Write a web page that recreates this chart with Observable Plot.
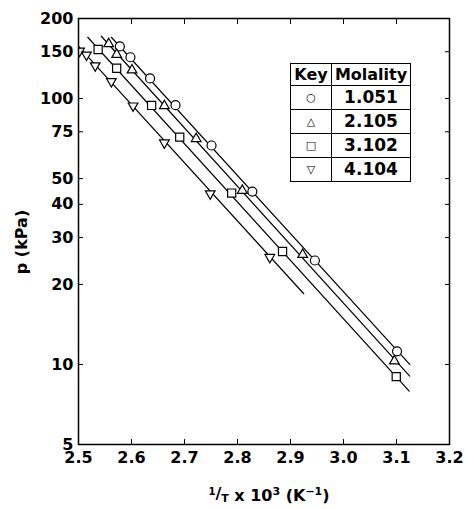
<!DOCTYPE html>
<html><head><meta charset="utf-8">
<script src="https://cdn.jsdelivr.net/npm/d3@7"></script>
<script src="https://cdn.jsdelivr.net/npm/@observablehq/plot@0.6"></script>
<style>
body{margin:0;background:#fff;font-family:"DejaVu Sans",sans-serif;}
#wrap{position:relative;width:465px;height:509px;}
#legend{position:absolute;left:290px;top:63px;border-collapse:collapse;table-layout:fixed;background:#fff;font-family:"DejaVu Sans",sans-serif;font-weight:bold;color:#000;}
#legend td,#legend th{border:1.5px solid #000;padding:0;text-align:center;line-height:1;}
#legend th{font-size:16px;height:21px;}
#legend td{font-size:17px;height:23px;}
#legend td.k{font-size:11px;font-weight:normal;}
</style></head><body><div id="wrap"></div>
<script>
const molality = ["1.051", "2.105", "3.102", "4.104"];
const keyGlyphs = ["○", "△", "□", "▽"];
const symbols = ["circle", "triangle", "square", "triangle"];
const rotations = [0, 0, 0, 180];
const radii = [4.5, 3.6, 4.6, 3.6];

const invT_1 = [2.578, 2.598, 2.635, 2.683, 2.751, 2.828, 2.946, 3.101];
const p_1    = [157, 143, 119, 94.4, 66.6, 44.7, 24.6, 11.2];
const invT_2 = [2.557, 2.572, 2.601, 2.662, 2.722, 2.809, 2.923, 3.096];
const p_2    = [160.6, 146.4, 128, 93.9, 70.6, 45.1, 25.9, 10.3];
const invT_3 = [2.537, 2.572, 2.638, 2.691, 2.789, 2.885, 3.0995];
const p_3    = [152.9, 130, 94.2, 71.6, 44.1, 26.6, 9.0];
const invT_4 = [2.502, 2.515, 2.5315, 2.562, 2.603, 2.662, 2.7485, 2.861];
const p_4    = [151, 146, 132.9, 116, 93.9, 68.2, 43.9, 25.3];

const lineStartX = [2.562, 2.543, 2.5175, 2.5];
const lineStartP = [170, 171.5, 170, 157];
const lineEndX   = [3.125, 3.125, 3.124, 2.925];
const lineEndP   = [10.0, 9.04, 7.94, 18.45];

const xTicks = [2.5, 2.6, 2.7, 2.8, 2.9, 3.0, 3.1, 3.2];
const yTicks = [5, 10, 20, 30, 40, 50, 75, 100, 150, 200];

const seriesX = [invT_1, invT_2, invT_3, invT_4];
const seriesP = [p_1, p_2, p_3, p_4];

const lines = molality.flatMap((m, i) => [
  {x: lineStartX[i], p: lineStartP[i], s: m},
  {x: lineEndX[i], p: lineEndP[i], s: m}
]);

const dotMarks = molality.map((m, i) => Plot.dot(
  seriesX[i].map((x, j) => ({x, p: seriesP[i][j]})),
  {x: "x", y: "p", symbol: symbols[i], rotate: rotations[i], r: radii[i],
   fill: "white", stroke: "black", strokeWidth: 1.2, clip: true}
));

const chart = Plot.plot({
  width: 465, height: 509,
  marginLeft: 78, marginRight: 16, marginTop: 18, marginBottom: 65,
  style: {fontFamily: "DejaVu Sans", fontSize: "16px", fontWeight: "bold", background: "#fff", color: "#000"},
  x: {domain: [2.5, 3.2]},
  y: {type: "log", domain: [5, 200]},
  marks: [
    Plot.axisX(xTicks, {anchor: "bottom", tickSize: -5, tickPadding: 12, tickFormat: d3.format(".1f"), label: null}),
    Plot.axisX(xTicks, {anchor: "top", tickSize: -5, tickFormat: () => "", label: null}),
    Plot.axisY(yTicks, {anchor: "left", tickSize: -5, tickPadding: 10, tickFormat: d => String(d), label: null}),
    Plot.axisY(yTicks, {anchor: "right", tickSize: -5, tickFormat: () => "", label: null}),
    Plot.line(lines, {x: "x", y: "p", z: "s", stroke: "black", strokeWidth: 1.2}),
    ...dotMarks,
    Plot.frame({stroke: "black", strokeWidth: 1.5})
  ]
});

const svg = d3.select(chart);
// y axis label
svg.append("text")
  .attr("transform", "translate(27,242) rotate(-90)")
  .attr("text-anchor", "middle")
  .style("font", "bold 16px 'DejaVu Sans'")
  .text("p (kPa)");
// x axis label
const xl = svg.append("text")
  .attr("x", 269).attr("y", 501)
  .attr("text-anchor", "middle")
  .style("font", "bold 16px 'DejaVu Sans'");
xl.append("tspan").attr("font-size", 10).attr("dy", -6).text("1");
xl.append("tspan").attr("font-size", 16).attr("dy", 4).text("/");
xl.append("tspan").attr("font-size", 11).attr("dy", 3).text("T");
xl.append("tspan").attr("font-size", 16).attr("dy", -1).text(" x 10");
xl.append("tspan").attr("font-size", 11).attr("dy", -6).text("3");
xl.append("tspan").attr("font-size", 16).attr("dy", 6).text(" (K");
xl.append("tspan").attr("font-size", 11).attr("dy", -6).text("−1");
xl.append("tspan").attr("font-size", 16).attr("dy", 6).text(")");

const wrap = document.getElementById("wrap");
wrap.appendChild(chart);

// legend table
const table = document.createElement("table");
table.id = "legend";
const cg = document.createElement("colgroup");
[41, 79].forEach(w => { const c = document.createElement("col"); c.style.width = w + "px"; cg.appendChild(c); });
table.appendChild(cg);
const hr = table.insertRow();
["Key", "Molality"].forEach(t => { const th = document.createElement("th"); th.textContent = t; hr.appendChild(th); });
molality.forEach((m, i) => {
  const r = table.insertRow();
  const k = r.insertCell(); k.className = "k"; k.textContent = keyGlyphs[i];
  const v = r.insertCell(); v.textContent = m;
});
wrap.appendChild(table);
</script></body></html>
